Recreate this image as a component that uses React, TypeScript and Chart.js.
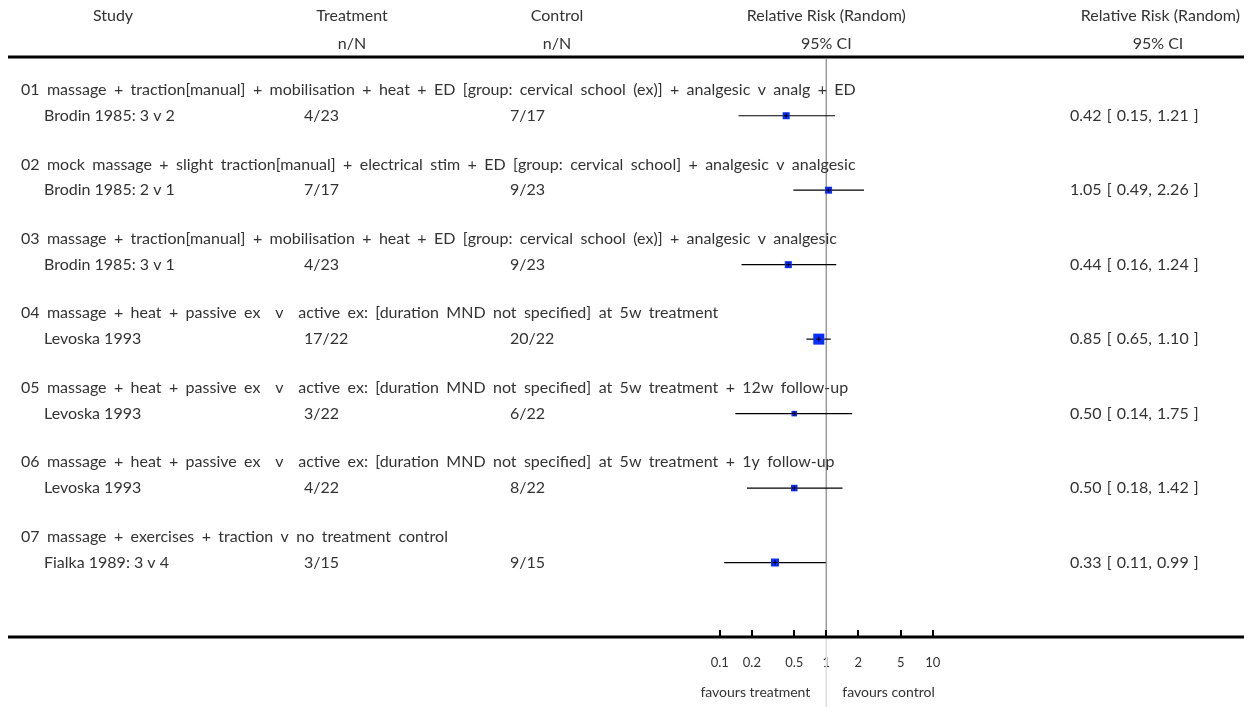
import React, { useEffect, useRef } from 'react';
import { Chart, registerables } from 'chart.js';

Chart.register(...registerables);

// ---------- data ----------
const groups: string[] = [
  '01 massage + traction[manual] + mobilisation + heat + ED [group: cervical school (ex)] + analgesic v analg + ED',
  '02 mock massage + slight traction[manual] + electrical stim + ED [group: cervical school] + analgesic v analgesic',
  '03 massage + traction[manual] + mobilisation + heat + ED [group: cervical school (ex)] + analgesic v analgesic',
  '04 massage + heat + passive ex  v  active ex: [duration MND not specified] at 5w treatment',
  '05 massage + heat + passive ex  v  active ex: [duration MND not specified] at 5w treatment + 12w follow-up',
  '06 massage + heat + passive ex  v  active ex: [duration MND not specified] at 5w treatment + 1y follow-up',
  '07 massage + exercises + traction v no treatment control',
];
const studies: string[] = [
  'Brodin 1985: 3 v 2',
  'Brodin 1985: 2 v 1',
  'Brodin 1985: 3 v 1',
  'Levoska 1993',
  'Levoska 1993',
  'Levoska 1993',
  'Fialka 1989: 3 v 4',
];
const treatment: string[] = ['4/23', '7/17', '4/23', '17/22', '3/22', '4/22', '3/15'];
const control: string[] = ['7/17', '9/23', '9/23', '20/22', '6/22', '8/22', '9/15'];
const rr: number[] = [0.42, 1.05, 0.44, 0.85, 0.5, 0.5, 0.33];
const lower: number[] = [0.15, 0.49, 0.16, 0.65, 0.14, 0.18, 0.11];
const upper: number[] = [1.21, 2.26, 1.24, 1.1, 1.75, 1.42, 0.99];
const weights: number[] = [7, 7, 7, 11, 5.5, 6.5, 8];
const tickValues: number[] = [0.1, 0.2, 0.5, 1, 2, 5, 10];

// ---------- layout constants ----------
const W = 1236;
const H = 699;
const FONT = 'Lato, "Open Sans", "DejaVu Sans", sans-serif';
const TEXT = '#333333';
const PX_PER_DECADE = 106.5;
const X_ONE = 818.3; // canvas pixel where RR = 1
const AXIS_BOTTOM = 628;

const headerRow = (i: number) => i * 3;
const studyRow = (i: number) => i * 3 + 1.04;

export default function App() {
  const ref = useRef<HTMLCanvasElement>(null);

  useEffect(() => {
    document.body.style.overflow = 'hidden';
    const canvas = ref.current!;

    const datasets: any[] = [];
    studies.forEach((_, i) => {
      datasets.push({
        type: 'scatter',
        showLine: true,
        data: [
          { x: lower[i], y: studyRow(i) },
          { x: upper[i], y: studyRow(i) },
        ],
        borderColor: '#000',
        borderWidth: 1.2,
        pointRadius: 0,
        order: 3,
      });
    });
    datasets.push({
      type: 'scatter',
      data: rr.map((v, i) => ({ x: v, y: studyRow(i) })),
      pointStyle: 'rect',
      pointRadius: weights.map((w) => w / Math.SQRT2),
      backgroundColor: '#0a2eff',
      borderWidth: 0,
      order: 2,
    });
    datasets.push({
      type: 'scatter',
      data: rr.map((v, i) => ({ x: v, y: studyRow(i) })),
      pointStyle: 'cross',
      pointRadius: 2.5,
      borderColor: '#000',
      borderWidth: 1,
      order: 1,
    });

    const forestPlugin = {
      id: 'forest',
      beforeDatasetsDraw(chart: any) {
        const ctx = chart.ctx as CanvasRenderingContext2D;
        const xs = chart.scales.x;
        const ys = chart.scales.y;
        const ca = chart.chartArea;
        const x1 = xs.getPixelForValue(1);
        const headerLineY = ys.getPixelForValue(-1.33);
        ctx.save();
        // header rule
        ctx.strokeStyle = '#000';
        ctx.lineWidth = 3;
        ctx.beginPath();
        ctx.moveTo(0, headerLineY);
        ctx.lineTo(W, headerLineY);
        ctx.stroke();
        // line of no effect
        ctx.strokeStyle = '#9a9a9a';
        ctx.lineWidth = 1.5;
        ctx.beginPath();
        ctx.moveTo(x1, headerLineY + 2);
        ctx.lineTo(x1, ca.bottom);
        ctx.stroke();
        ctx.strokeStyle = '#dddddd';
        ctx.beginPath();
        ctx.moveTo(x1, ca.bottom);
        ctx.lineTo(x1, H);
        ctx.stroke();
        // axis line
        ctx.strokeStyle = '#000';
        ctx.lineWidth = 3;
        ctx.beginPath();
        ctx.moveTo(0, ca.bottom + 1);
        ctx.lineTo(W, ca.bottom + 1);
        ctx.stroke();
        // tick marks (inward)
        ctx.lineWidth = 2;
        tickValues.forEach((v) => {
          const px = Math.round(xs.getPixelForValue(v));
          ctx.beginPath();
          ctx.moveTo(px, ca.bottom - 6);
          ctx.lineTo(px, ca.bottom);
          ctx.stroke();
        });
        ctx.restore();
      },
      afterDraw(chart: any) {
        const ctx = chart.ctx as any;
        const xs = chart.scales.x;
        const ys = chart.scales.y;
        const x1 = xs.getPixelForValue(1);
        ctx.save();
        ctx.fillStyle = TEXT;
        ctx.font = `16px ${FONT}`;
        ctx.textBaseline = 'middle';

        // column headers
        const h1 = ys.getPixelForValue(-2.97);
        const h2 = ys.getPixelForValue(-1.84);
        ctx.textAlign = 'center';
        ctx.fillText('Study', 105, h1);
        ctx.fillText('Treatment', 344, h1);
        ctx.fillText('n/N', 344, h2);
        ctx.fillText('Control', 549, h1);
        ctx.fillText('n/N', 549, h2);
        ctx.fillText('Relative Risk (Random)', x1, h1);
        ctx.fillText('95% CI', x1, h2);
        ctx.fillText('95% CI', 1150, h2);
        ctx.textAlign = 'right';
        ctx.fillText('Relative Risk (Random)', 1232, h1);

        // rows
        ctx.textAlign = 'left';
        ctx.wordSpacing = '3.3px';
        groups.forEach((g, i) => {
          ctx.fillText(g, 13, ys.getPixelForValue(headerRow(i)));
        });
        ctx.wordSpacing = '0px';
        studies.forEach((s, i) => {
          const y = ys.getPixelForValue(studyRow(i));
          ctx.fillText(s, 36, y);
          ctx.fillText(treatment[i], 296, y);
          ctx.fillText(control[i], 502, y);
        });
        ctx.wordSpacing = '1px';
        studies.forEach((_, i) => {
          const y = ys.getPixelForValue(studyRow(i));
          ctx.fillText(
            `${rr[i].toFixed(2)} [ ${lower[i].toFixed(2)}, ${upper[i].toFixed(2)} ]`,
            1062,
            y
          );
        });
        ctx.wordSpacing = '0px';

        // favours labels
        ctx.font = `14px ${FONT}`;
        const fy = 684;
        ctx.textAlign = 'right';
        ctx.fillText('favours treatment', x1 - 16, fy);
        ctx.textAlign = 'left';
        ctx.fillText('favours control', x1 + 16, fy);
        ctx.restore();
      },
    };

    const chart = new Chart(canvas, {
      type: 'scatter',
      data: { datasets },
      options: {
        animation: false,
        responsive: false,
        maintainAspectRatio: false,
        layout: { padding: 0, autoPadding: false },
        plugins: {
          legend: { display: false },
          tooltip: { enabled: false },
          title: { display: false },
        },
        scales: {
          x: {
            type: 'logarithmic',
            position: 'bottom',
            min: Math.pow(10, -X_ONE / PX_PER_DECADE),
            max: Math.pow(10, (W - X_ONE) / PX_PER_DECADE),
            grid: { display: false, drawTicks: false },
            border: { display: false },
            ticks: {
              autoSkip: false,
              maxRotation: 0,
              padding: 19,
              color: TEXT,
              font: { family: FONT, size: 13 },
              callback: (v: any) => String(v),
            },
            afterBuildTicks: (s: any) => {
              s.ticks = tickValues.map((v) => ({ value: v }));
            },
            afterFit: (s: any) => {
              s.height = H - AXIS_BOTTOM;
            },
          },
          y: {
            type: 'linear',
            display: false,
            reverse: true,
            min: -3.3,
            max: 22.0,
          },
        },
      },
      plugins: [forestPlugin],
    } as any);

    return () => chart.destroy();
  }, []);

  return (
    <div style={{ width: W, height: H }}>
      <canvas ref={ref} width={W} height={H} style={{ display: 'block', width: W, height: H }} />
    </div>
  );
}
